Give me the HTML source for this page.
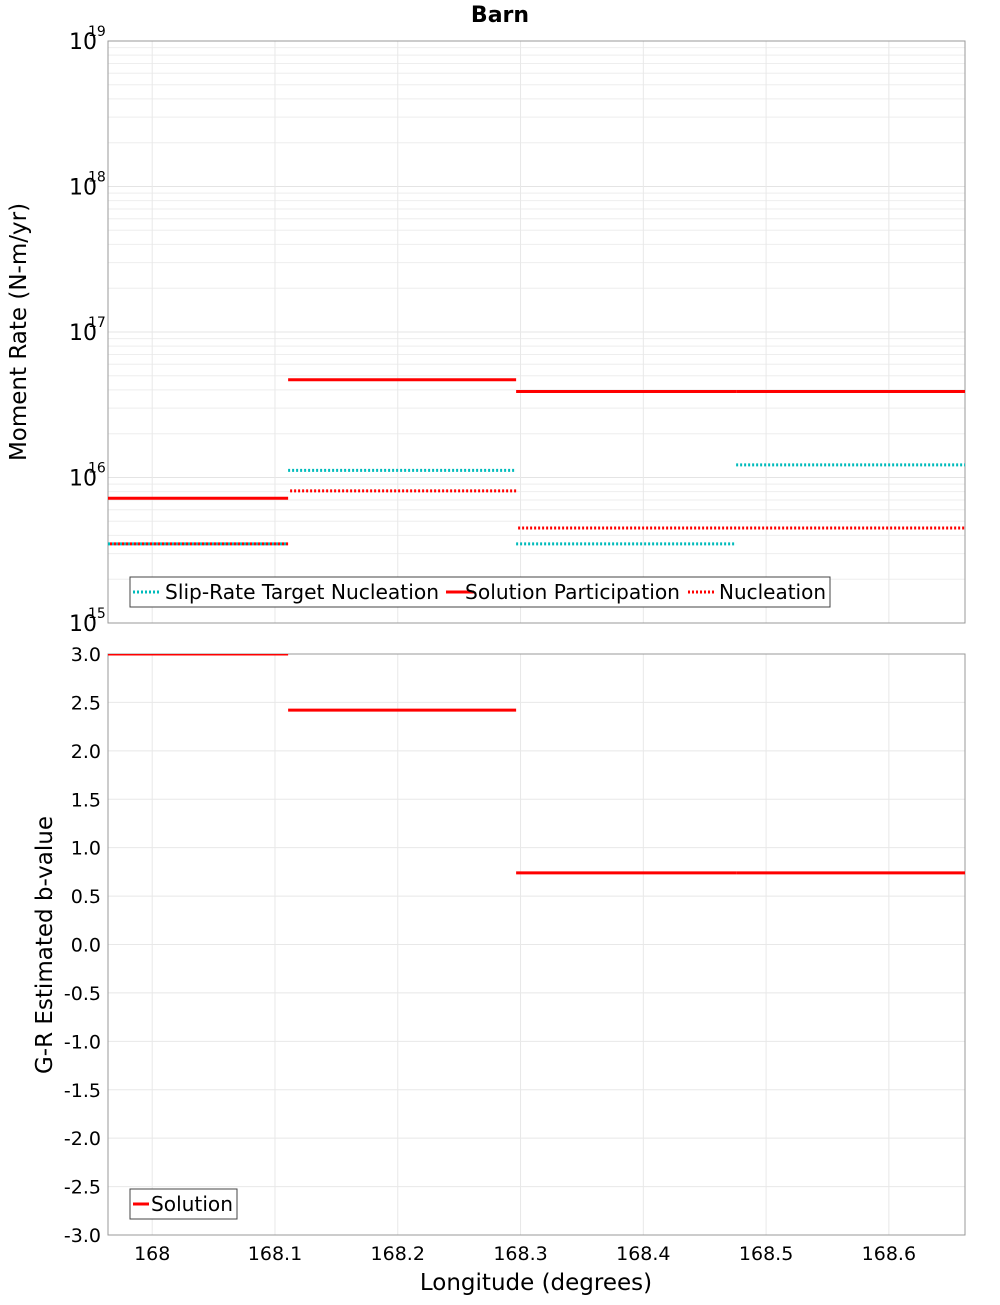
<!DOCTYPE html>
<html><head><meta charset="utf-8"><style>
body{margin:0;background:#fff;font-family:"Liberation Sans","DejaVu Sans",sans-serif}
svg text{font-family:"DejaVu Sans","Liberation Sans",sans-serif}
</style></head><body>
<svg id="c" width="1000" height="1300" xmlns="http://www.w3.org/2000/svg"></svg>
<script>
const segBounds=[167.964,168.1107,168.2964,168.4756,168.662];
const participation=[7.2e15,4.7e16,3.9e16,3.9e16];
const targetNucleation=[3.5e15,1.12e16,3.5e15,1.22e16];
const nucleation=[3.5e15,8.1e15,4.5e15,4.5e15];
const bValues=[3.0,2.42,0.74,0.74];
const xTicks=[168,168.1,168.2,168.3,168.4,168.5,168.6];
const xTickLabels=["168","168.1","168.2","168.3","168.4","168.5","168.6"];
const bTicks=[3,2.5,2,1.5,1,0.5,0,-0.5,-1,-1.5,-2,-2.5,-3];
const decades=[15,16,17,18,19];

const svg=document.getElementById('c');
const NS='http://www.w3.org/2000/svg';
function el(t,a,p){const e=document.createElementNS(NS,t);for(const k in a)e.setAttribute(k,a[k]);(p||svg).appendChild(e);return e;}
const L=108,R=965,T1=41,B1=623,T2=654,B2=1235;
const x=v=>L+(v-167.964)/(168.662-167.964)*(R-L);
const y1=v=>T1+(19-Math.log10(v))/4*(B1-T1);
const y2=v=>T2+(3-v)/6*(B2-T2);

const defs=el('defs',{});
const cp=el('clipPath',{id:'clip2'},defs);
el('rect',{x:L,y:T2,width:R-L,height:B2-T2},cp);

const title=el('text',{x:500,y:22,'text-anchor':'middle','font-size':22,'font-weight':'bold'});title.textContent='Barn';



const g1=el('g',{});


for(let d=15;d<19;d++)for(let m=1;m<10;m++){const yy=y1(m*Math.pow(10,d));el('line',{x1:L,x2:R,y1:yy,y2:yy,stroke:m==1?'#e4e4e4':'#eeeeee','stroke-width':1},g1);}
const g2=el('g',{});


bTicks.forEach(v=>{const yy=y2(v);el('line',{x1:L,x2:R,y1:yy,y2:yy,stroke:'#e8e8e8'},g2);});
xTicks.forEach(v=>{el('line',{x1:x(v),x2:x(v),y1:T1,y2:B1,stroke:'#e8e8e8'},g1);el('line',{x1:x(v),x2:x(v),y1:T2,y2:B2,stroke:'#e8e8e8'},g2);});

const f1=el('rect',{x:L,y:T1,width:R-L,height:B1-T1,fill:'none',stroke:'#999'});


const f2=el('rect',{x:L,y:T2,width:R-L,height:B2-T2,fill:'none',stroke:'#999'});



decades.forEach(d=>{const t=el('text',{x:97,y:y1(Math.pow(10,d))+8,'text-anchor':'end','font-size':22});


t.textContent='10';const s=el('text',{x:88,y:y1(Math.pow(10,d))-5,'font-size':14});s.textContent=String(d);

});
bTicks.forEach(v=>{const t=el('text',{x:101,y:y2(v)+7,'text-anchor':'end','font-size':19});t.textContent=v.toFixed(1);

});
xTicks.forEach((v,i)=>{const t=el('text',{x:x(v),y:1260,'text-anchor':'middle','font-size':19});t.textContent=xTickLabels[i];

});

const yt=el('text',{transform:'translate(26,332) rotate(-90)','text-anchor':'middle','font-size':23});yt.textContent='Moment Rate (N-m/yr)';


const yb=el('text',{transform:'translate(52,945) rotate(-90)','text-anchor':'middle','font-size':23});yb.textContent='G-R Estimated b-value';


const xt=el('text',{x:536,y:1290,'text-anchor':'middle','font-size':23});xt.textContent='Longitude (degrees)';



function seg(arr,yf,color,dash,w,name,off,clip){for(let i=0;i<arr.length;i++){const l=el('line',{x1:x(segBounds[i]),x2:x(segBounds[i+1]),y1:yf(arr[i]),y2:yf(arr[i]),stroke:color,'stroke-width':w});if(dash){l.setAttribute('stroke-dasharray',dash);l.setAttribute('stroke-dashoffset',off||0);}
if(clip)l.setAttribute('clip-path','url(#clip2)');

}}
seg(participation,y1,'#ff0000',null,3,'participation-segment');
seg(targetNucleation,y1,'#00bbbb','2,2',3,'target-nucleation-segment',0);
seg(nucleation,y1,'#ff0000','2,2',3,'nucleation-segment',2);
seg(bValues,y2,'#ff0000',null,3,'b-value-segment',0,true);

const lg=el('g',{});


el('rect',{x:130,y:577,width:700,height:30,fill:'#fff',stroke:'#444'},lg);
[[133,'#00bbbb','2,2','Slip-Rate Target Nucleation',165,274],[446,'#ff0000',null,'Solution Participation',465,215],[688,'#ff0000','2,2','Nucleation',719,107]].forEach(a=>{
const l=el('line',{x1:a[0],x2:a[0]+28,y1:592,y2:592,stroke:a[1],'stroke-width':3},lg);if(a[2])l.setAttribute('stroke-dasharray',a[2]);
const t=el('text',{x:a[4],y:599,'font-size':20,textLength:a[5],lengthAdjust:'spacingAndGlyphs'},lg);t.textContent=a[3];});
const lg2=el('g',{});


el('rect',{x:130,y:1189,width:107,height:30,fill:'#fff',stroke:'#444'},lg2);
el('line',{x1:133,x2:149,y1:1204,y2:1204,stroke:'#ff0000','stroke-width':3},lg2);
const t2=el('text',{x:151,y:1211,'font-size':20,textLength:82,lengthAdjust:'spacingAndGlyphs'},lg2);t2.textContent='Solution';
</script>
</body></html>
